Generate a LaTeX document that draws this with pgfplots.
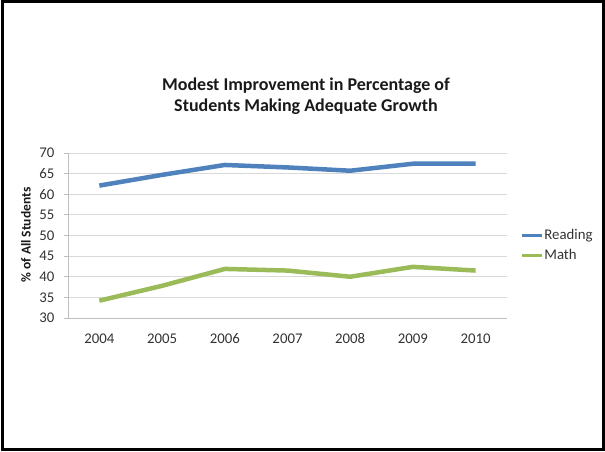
\documentclass[border=0pt]{standalone}
\usepackage{pgfplots}
\pgfplotsset{compat=1.18}
\usepackage{fontspec}
\setmainfont{Carlito}
\definecolor{readblue}{HTML}{4F81BD}
\definecolor{mathgreen}{HTML}{9BBB59}
\definecolor{gridgray}{HTML}{D9D9D9}
\definecolor{axisgray}{HTML}{BFBFBF}
\definecolor{txtgray}{HTML}{333333}
\begin{document}
\begin{tikzpicture}[x=1pt,y=1pt]
\useasboundingbox (0,0) rectangle (605,452);
\draw[line width=2.6pt] (2.5,2.2) rectangle (603.2,450.5);
\node[font=\fontsize{18}{21.5}\selectfont\bfseries, align=center, text=black!90] at (306,356) {Modest Improvement in Percentage of\\Students Making Adequate Growth};
\begin{axis}[
  at={(68pt,134pt)}, anchor=south west,
  scale only axis, width=439pt, height=165pt,
  xmin=-0.5, xmax=6.5, ymin=30, ymax=70,
  xtick={0,...,6}, xticklabels={2004,2005,2006,2007,2008,2009,2010},
  extra x ticks={-0.5,0.5,...,6.5}, extra x tick labels={},
  extra x tick style={major tick length=6pt, tick style={axisgray, line width=0.8pt}, tick align=outside},
  ytick={30,35,...,70},
  ymajorgrids, grid style={gridgray, line width=0.8pt},
  axis x line*=bottom, axis y line*=left,
  axis line style={axisgray, line width=0.8pt, -},
  x tick style={draw=none},
  y tick style={axisgray, line width=0.8pt},
  tick align=outside, major tick length=4pt,
  ticklabel style={font=\fontsize{14.8}{16}\selectfont, text=txtgray},
  /pgf/number format/assume math mode=true,
  yticklabel style={xshift=-6pt},
  xticklabel style={yshift=-8pt},
  legend style={at={(1.03,0.44)}, anchor=west, draw=none, fill=none,
    font=\fontsize{14.8}{16}\selectfont, text=txtgray, row sep=6pt, inner sep=0pt,
    nodes={inner sep=1pt}},
  legend cell align=left,
  legend image code/.code={\draw[#1, line width=3pt] (0pt,0pt) -- (20pt,0pt);},
  clip=false,
]
\addplot[readblue, line width=4.5pt, line join=round] coordinates {
(0,62.1) (1,64.7) (2,67.1) (3,66.5) (4,65.7) (5,67.4) (6,67.4)};
\addlegendentry{Reading}
\addplot[mathgreen, line width=4.5pt, line join=round] coordinates {
(0,34.2) (1,37.8) (2,41.9) (3,41.5) (4,40.0) (5,42.4) (6,41.5)};
\addlegendentry{Math}
\end{axis}
\node[rotate=90, font=\fontsize{13.5}{16}\selectfont\bfseries, text=black!90] at (26,217) {\% of All Students};
\end{tikzpicture}
\end{document}
